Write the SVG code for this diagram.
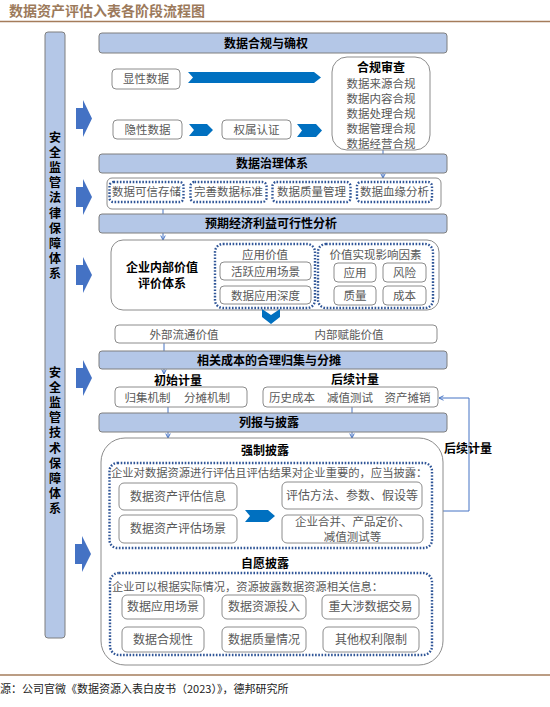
<svg xmlns="http://www.w3.org/2000/svg" width="550" height="707" viewBox="0 0 550 707">
<defs>
<style>
text{font-family:"Noto Sans CJK SC","Liberation Sans",sans-serif;}
.hdr{fill:#B4C7E7;stroke:#7F7F7F;stroke-width:1;}
.ht{font-size:12px;font-weight:bold;fill:#000;text-anchor:middle;}
.box{fill:#fff;stroke:#8C8C8C;stroke-width:1;}
.gt{font-size:11.5px;fill:#595959;text-anchor:middle;}
.bt{font-size:12px;font-weight:bold;fill:#000;text-anchor:middle;}
.dot{fill:none;stroke:#2F5597;stroke-width:2.4;stroke-dasharray:1.6 1.6;}
.chev{fill:#0070C0;}
.barr{fill:#4472C4;}
.conn{fill:none;stroke:#4472C4;stroke-width:1;}
.vt{font-size:12px;font-weight:bold;fill:#000;writing-mode:vertical-rl;letter-spacing:3.2px;}
</style>
<marker id="ah" viewBox="0 0 8 8" refX="7" refY="4" markerWidth="6" markerHeight="6" orient="auto" markerUnits="userSpaceOnUse">
<path d="M1,1 L7,4 L1,7" fill="none" stroke="#4472C4" stroke-width="1.3"/>
</marker>
</defs>
<rect width="550" height="707" fill="#fff"/>

<!-- title -->
<text x="9" y="16" style="font-size:14px;font-weight:bold;fill:#9C7A5B;">数据资产评估入表各阶段流程图</text>
<line x1="0" y1="21.5" x2="550" y2="21.5" stroke="#A57C5B" stroke-width="1.5"/>

<!-- left bar -->
<g id="left-bar">
<rect x="45" y="32" width="20" height="606" rx="3" class="hdr"/>
<text x="55" y="131" class="vt">安全监管法律保障体系</text>
<text x="55" y="366" class="vt">安全监管技术保障体系</text>
</g>

<!-- block arrows -->
<g id="block-arrows">
<polygon class="barr" points="76,108 83,108 83,100 92,118.5 83,137 83,129 76,129"/>
<polygon class="barr" points="76,187 83,187 83,179 92,197 83,215 83,207 76,207"/>
<polygon class="barr" points="76,265 83,265 83,257 92,275 83,293 83,285 76,285"/>
<polygon class="barr" points="76,368 83,368 83,360 92,378 83,396 83,388 76,388"/>
<polygon class="barr" points="75,544 82,544 82,536 91,554 82,572 82,564 75,564"/>
</g>

<!-- connectors -->
<g id="connectors">
<line class="conn" x1="383" y1="150" x2="383" y2="154"/>
<line class="conn" x1="383" y1="173" x2="383" y2="178" marker-end="url(#ah)"/>
<line class="conn" x1="163" y1="209" x2="163" y2="214"/>
<line class="conn" x1="163" y1="233" x2="163" y2="240" marker-end="url(#ah)"/>
<line class="conn" x1="164" y1="343" x2="164" y2="351"/>
<line class="conn" x1="164" y1="369" x2="164" y2="374" marker-end="url(#ah)"/>
<line class="conn" x1="168" y1="407" x2="168" y2="413"/>
<line class="conn" x1="352" y1="407" x2="352" y2="413"/>
<line class="conn" x1="168" y1="432" x2="168" y2="438" marker-end="url(#ah)"/>
<line class="conn" x1="352" y1="432" x2="352" y2="438" marker-end="url(#ah)"/>
<polyline class="conn" points="442,511 469,511 469,398 439,398" marker-end="url(#ah)"/>
</g>

<!-- section 1 -->
<g id="hdr-compliance">
<rect x="99" y="33" width="348" height="20" rx="3" class="hdr"/>
<text x="266" y="47.5" class="ht">数据合规与确权</text>
</g>
<g id="explicit-data">
<rect x="112" y="69" width="68" height="20" rx="4" class="box"/>
<text x="146" y="83" class="gt">显性数据</text>
</g>
<polygon class="chev" points="188,72 314,72 321,77.5 314,83 188,83 193,77.5"/>
<g id="implicit-data">
<rect x="113" y="120" width="69" height="19" rx="4" class="box"/>
<text x="147.5" y="133.5" class="gt">隐性数据</text>
</g>
<polygon class="chev" points="189,124 207,124 213,130 207,136 189,136 194,130"/>
<g id="ownership">
<rect x="222" y="120" width="69" height="19" rx="4" class="box"/>
<text x="256.5" y="133.5" class="gt">权属认证</text>
</g>
<polygon class="chev" points="297,124 316,124 322,130.5 316,137 297,137 302,130.5"/>
<g id="compliance-review">
<rect x="332" y="57" width="98" height="93" rx="15" class="box"/>
<text class="gt"><tspan x="381" y="72" style="font-weight:bold;fill:#000;font-size:12px">合规审查</tspan><tspan x="381" y="87.5">数据来源合规</tspan><tspan x="381" dy="15">数据内容合规</tspan><tspan x="381" dy="15">数据处理合规</tspan><tspan x="381" dy="15">数据管理合规</tspan><tspan x="381" dy="15">数据经营合规</tspan></text>
</g>

<!-- section 2 -->
<g id="hdr-governance">
<rect x="99" y="154" width="348" height="19" rx="3" class="hdr"/>
<text x="272" y="168" class="ht">数据治理体系</text>
</g>
<g id="governance-items">
<rect x="107" y="178" width="334" height="31" rx="5" class="box"/>
<rect x="109.5" y="182" width="74" height="20" rx="4" class="dot"/>
<text x="146.5" y="196" class="gt">数据可信存储</text>
<rect x="190.5" y="182" width="76" height="20" rx="4" class="dot"/>
<text x="228.5" y="196" class="gt">完善数据标准</text>
<rect x="272.5" y="182" width="78" height="20" rx="4" class="dot"/>
<text x="311.5" y="196" class="gt">数据质量管理</text>
<rect x="357" y="182" width="75" height="20" rx="4" class="dot"/>
<text x="394.5" y="196" class="gt">数据血缘分析</text>
</g>

<!-- section 3 -->
<g id="hdr-economic">
<rect x="99" y="214" width="348" height="19" rx="3" class="hdr"/>
<text x="271" y="228" class="ht">预期经济利益可行性分析</text>
</g>
<g id="internal-value">
<rect x="111" y="240" width="328" height="70" rx="12" class="box"/>
<text class="bt"><tspan x="162" y="272">企业内部价值</tspan><tspan x="162" dy="16">评价体系</tspan></text>
</g>
<g id="app-value">
<rect x="215" y="244" width="100" height="64" rx="8" class="dot"/>
<text x="265" y="259" class="gt">应用价值</text>
<rect x="220" y="262" width="91" height="18" rx="4" class="box"/>
<text x="265.5" y="275.5" class="gt">活跃应用场景</text>
<rect x="220" y="286" width="91" height="18" rx="4" class="box"/>
<text x="265.5" y="299.5" class="gt">数据应用深度</text>
</g>
<g id="value-factors">
<rect x="318" y="244" width="115" height="64" rx="8" class="dot"/>
<text x="375.5" y="259" class="gt">价值实现影响因素</text>
<rect x="334" y="263" width="42" height="19" rx="4" class="box"/>
<text x="355" y="276.5" class="gt">应用</text>
<rect x="383" y="263" width="43" height="19" rx="4" class="box"/>
<text x="404.5" y="276.5" class="gt">风险</text>
<rect x="334" y="286" width="42" height="19" rx="4" class="box"/>
<text x="355" y="299.5" class="gt">质量</text>
<rect x="383" y="286" width="43" height="19" rx="4" class="box"/>
<text x="404.5" y="299.5" class="gt">成本</text>
</g>
<polygon class="chev" points="262,309 271,315 280,309 280,317 271,324 262,317"/>
<g id="value-types">
<rect x="115" y="325" width="322" height="18" rx="4" class="box"/>
<text x="184" y="338.5" class="gt">外部流通价值</text>
<text x="349" y="338.5" class="gt">内部赋能价值</text>
</g>

<!-- section 4 -->
<g id="hdr-cost">
<rect x="99" y="351" width="348" height="18" rx="3" class="hdr"/>
<text x="269" y="364.5" class="ht">相关成本的合理归集与分摊</text>
</g>
<g id="initial-measure">
<text x="178" y="384.5" class="bt">初始计量</text>
<rect x="115" y="387" width="132" height="20" rx="4" class="box"/>
<text x="147.5" y="401.5" class="gt">归集机制</text>
<text x="207" y="401.5" class="gt">分摊机制</text>
</g>
<g id="subsequent-measure">
<text x="355" y="384" class="bt">后续计量</text>
<rect x="263" y="387" width="175" height="20" rx="4" class="box"/>
<text x="292" y="401.5" class="gt">历史成本</text>
<text x="350" y="401.5" class="gt">减值测试</text>
<text x="407.5" y="401.5" class="gt">资产摊销</text>
</g>

<!-- section 5 -->
<g id="hdr-disclosure">
<rect x="99" y="413" width="348" height="19" rx="3" class="hdr"/>
<text x="269" y="427" class="ht">列报与披露</text>
</g>
<g id="disclosure">
<rect x="101" y="438" width="342" height="227" rx="24" class="box"/>
<text x="265" y="455" class="bt">强制披露</text>
<text x="468" y="452.5" class="bt">后续计量</text>
</g>
<g id="mandatory">
<rect x="109.5" y="463" width="322.5" height="85" rx="8" class="dot"/>
<text x="111" y="477" style="font-size:11.3px;fill:#595959;">企业对数据资源进行评估且评估结果对企业重要的，应当披露：</text>
<rect x="119" y="483" width="118" height="27" rx="5" class="box"/>
<text x="178" y="500.5" class="gt" style="font-size:12px">数据资产评估信息</text>
<rect x="119" y="515" width="118" height="28" rx="5" class="box"/>
<text x="178" y="533" class="gt" style="font-size:12px">数据资产评估场景</text>
<polygon class="chev" points="245,510 268,510 275,516 268,522 245,522 250,516"/>
<rect x="282" y="482" width="140" height="27" rx="5" class="box"/>
<text x="352" y="499.5" class="gt" style="font-size:12px">评估方法、参数、假设等</text>
<rect x="282" y="515" width="141" height="28" rx="5" class="box"/>
<text class="gt"><tspan x="352.5" y="526">企业合并、产品定价、</tspan><tspan x="352.5" dy="15">减值测试等</tspan></text>
</g>
<g id="voluntary">
<text x="265" y="568" class="bt">自愿披露</text>
<rect x="110" y="573" width="322" height="82" rx="9" class="dot"/>
<text x="112" y="591" style="font-size:11.3px;fill:#595959;">企业可以根据实际情况，资源披露数据资源相关信息：</text>
<rect x="122" y="595" width="82" height="24" rx="5" class="box"/>
<text x="163" y="611" class="gt" style="font-size:12px">数据应用场景</text>
<rect x="222" y="595" width="84" height="24" rx="5" class="box"/>
<text x="264" y="611" class="gt" style="font-size:12px">数据资源投入</text>
<rect x="322" y="595" width="97" height="24" rx="5" class="box"/>
<text x="370.5" y="611" class="gt" style="font-size:12px">重大涉数据交易</text>
<rect x="122" y="627" width="82" height="25" rx="5" class="box"/>
<text x="163" y="643.5" class="gt" style="font-size:12px">数据合规性</text>
<rect x="222" y="627" width="84" height="25" rx="5" class="box"/>
<text x="264" y="643.5" class="gt" style="font-size:12px">数据质量情况</text>
<rect x="323" y="627" width="96" height="25" rx="5" class="box"/>
<text x="371" y="643.5" class="gt" style="font-size:12px">其他权利限制</text>
</g>

<!-- footer -->
<line x1="0" y1="675" x2="550" y2="675" stroke="#A57C5B" stroke-width="1.5"/>
<text x="0" y="693" style="font-size:11px;fill:#222;">源：公司官微《数据资源入表白皮书（2023）》，德邦研究所</text>
</svg>
